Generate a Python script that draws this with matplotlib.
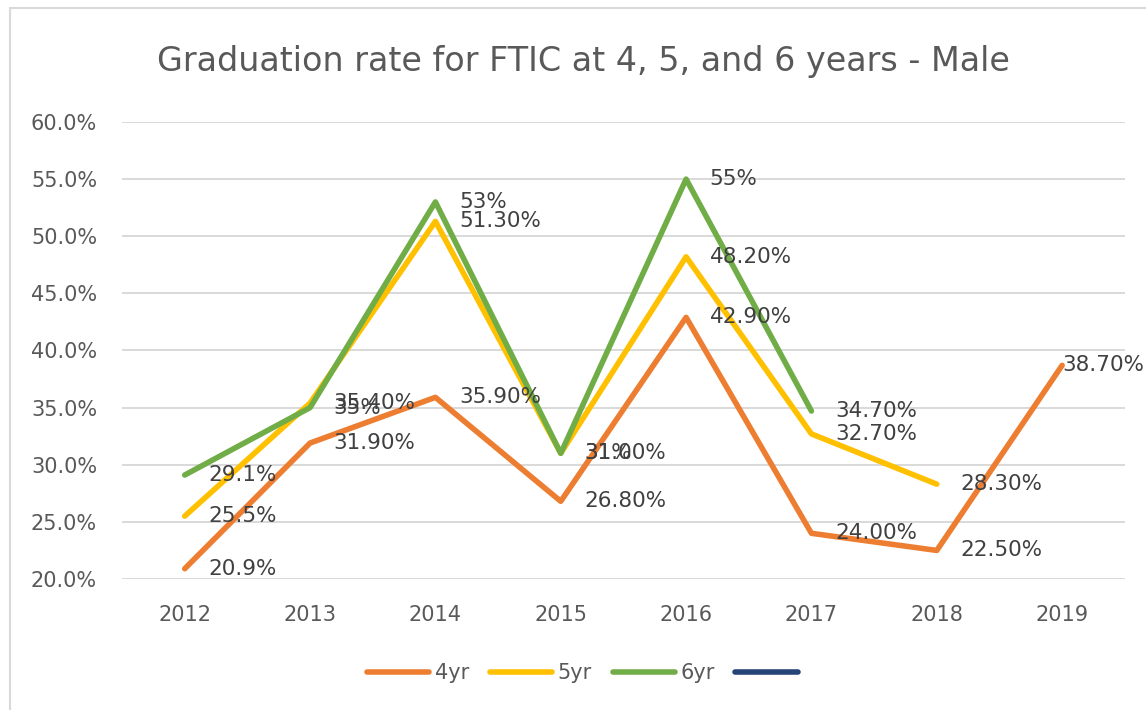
import matplotlib.pyplot as plt
from matplotlib.lines import Line2D
from matplotlib.patches import Rectangle

years = ['2012', '2013', '2014', '2015', '2016', '2017', '2018', '2019']

rate_4yr = [20.9, 31.9, 35.9, 26.8, 42.9, 24.0, 22.5, 38.7]
rate_5yr = [25.5, 35.4, 51.3, 31.0, 48.2, 32.7, 28.3]
rate_6yr = [29.1, 35.0, 53.0, 31.0, 55.0, 34.7]

labels_4yr = ['20.9%', '31.90%', '35.90%', '26.80%', '42.90%', '24.00%', '22.50%', '38.70%']
labels_5yr = ['25.5%', '35.40%', '51.30%', '31.00%', '48.20%', '32.70%', '28.30%']
labels_6yr = ['29.1%', '35%', '53%', '31%', '55%', '34.70%']

series = [
    ('4yr', rate_4yr, labels_4yr, '#ED7D31'),
    ('5yr', rate_5yr, labels_5yr, '#FFC000'),
    ('6yr', rate_6yr, labels_6yr, '#70AD47'),
]

text_col = '#595959'
label_col = '#404040'

fig = plt.figure(figsize=(11.46, 7.10), dpi=100)
ax = fig.add_axes([0.1065, 0.1845, 0.875, 0.6437])

for name, vals, labs, col in series:
    xs = list(range(len(vals)))
    ax.plot(xs, vals, color=col, lw=4, solid_capstyle='round',
            solid_joinstyle='round', zorder=3)
    for x, v, t in zip(xs, vals, labs):
        # last label gets pushed in so it stays inside the chart area
        dx = 0 if x == len(years) - 1 else 17
        ax.annotate(t, (x, v), xytext=(dx, 0), textcoords='offset points',
                    ha='left', va='center', fontsize=15.5, color=label_col,
                    zorder=4, annotation_clip=False)

ax.set_xlim(-0.5, len(years) - 0.5)
ax.set_ylim(20, 60)
ax.set_xticks(range(len(years)))
ax.set_xticklabels(years)
ax.set_yticks(range(20, 61, 5))
ax.set_yticklabels(['%.1f%%' % v for v in range(20, 61, 5)])
ax.tick_params(length=0, labelsize=15, labelcolor=text_col)
ax.tick_params(axis='y', pad=18)
ax.tick_params(axis='x', pad=19)
ax.yaxis.grid(True, color='#d9d9d9', lw=1.4)
ax.set_axisbelow(True)
for s in ax.spines.values():
    s.set_visible(False)

fig.text(0.509, 0.913, 'Graduation rate for FTIC at 4, 5, and 6 years - Male',
         ha='center', va='center', fontsize=24, color=text_col,
         family=['Liberation Sans Narrow', 'DejaVu Sans'])

handles = [Line2D([], [], color=c, lw=4, solid_capstyle='round') for _, _, _, c in series]
handles.append(Line2D([], [], color='#264478', lw=4, solid_capstyle='round'))
fig.legend(handles, ['4yr', '5yr', '6yr', ''], loc='center',
           bbox_to_anchor=(0.5105, 0.052), ncol=4, frameon=False,
           fontsize=15, labelcolor=text_col, handlelength=3.0,
           handletextpad=0.25, columnspacing=1.0)

fig.patches.append(Rectangle((10 / 1146, -0.02), 1.05, 1 - 8 / 710 + 0.02,
                             transform=fig.transFigure, fill=False,
                             ec='#d9d9d9', lw=1.5))

fig.savefig('out.png', dpi=100)
